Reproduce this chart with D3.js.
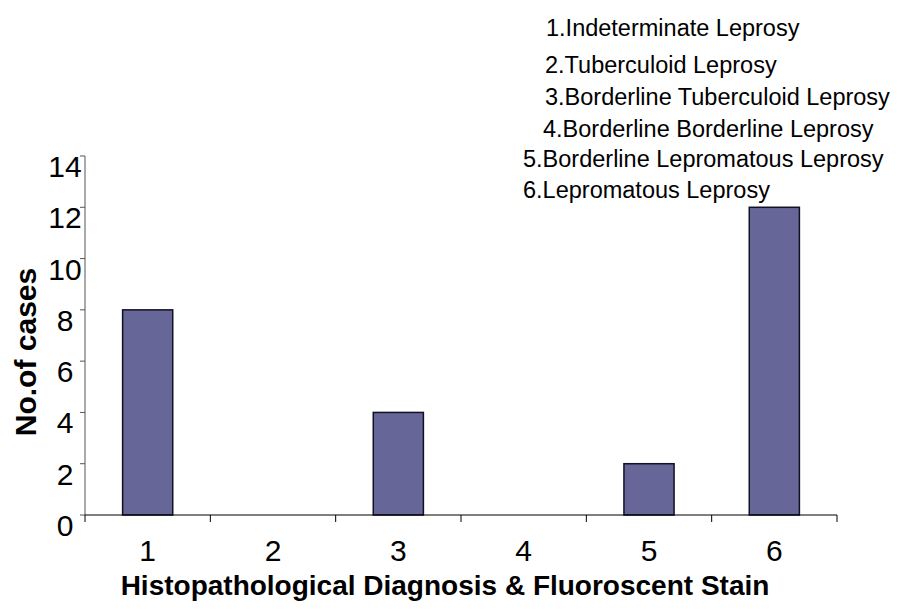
<!DOCTYPE html>
<html>
<head>
<meta charset="utf-8">
<script src="https://cdn.jsdelivr.net/npm/d3@7"></script>
<style>
  html, body { margin: 0; padding: 0; background: #fff; }
  svg { display: block; font-family: Arial, "Liberation Sans", sans-serif; }
</style>
</head>
<body>
<svg id="chart" width="900" height="609"></svg>
<script>
// Cases per histopathological diagnosis (fluorescent stain positive)
const categories = ["1", "2", "3", "4", "5", "6"];
const cases = [8, 0, 4, 0, 2, 12];
const yTicks = [0, 2, 4, 6, 8, 10, 12, 14];
const legendLines = [
  "1.Indeterminate Leprosy",
  "2.Tuberculoid Leprosy",
  "3.Borderline Tuberculoid Leprosy",
  "4.Borderline Borderline Leprosy",
  "5.Borderline Lepromatous Leprosy",
  "6.Lepromatous Leprosy"
];

const svg = d3.select("#chart");
const plot = { left: 85, right: 837, top: 156, bottom: 515 };

const x = d3.scaleBand().domain(categories).range([plot.left, plot.right]).padding(0);
const y = d3.scaleLinear().domain([0, 14]).range([plot.bottom, plot.top]);

// bars
const barW = x.bandwidth() * 0.4;
svg.append("g").selectAll("rect")
  .data(categories.map((c, i) => ({ c, v: cases[i] })).filter(d => d.v > 0))
  .join("rect")
  .attr("x", d => x(d.c) + (x.bandwidth() - barW) / 2)
  .attr("y", d => y(d.v))
  .attr("width", barW)
  .attr("height", d => y(0) - y(d.v))
  .attr("fill", "#666699")
  .attr("stroke", "#111122")
  .attr("stroke-width", 1.5);

// y axis
const yAxis = svg.append("g");
yAxis.append("line")
  .attr("x1", plot.left).attr("x2", plot.left)
  .attr("y1", y(14)).attr("y2", y(0))
  .attr("stroke", "#555").attr("stroke-width", 1);
yAxis.selectAll("line.tick").data(yTicks).join("line")
  .attr("class", "tick")
  .attr("x1", plot.left - 5).attr("x2", plot.left)
  .attr("y1", d => y(d)).attr("y2", d => y(d))
  .attr("stroke", "#555");
yAxis.selectAll("text").data(yTicks).join("text")
  .attr("x", 65)
  .attr("y", d => y(d) + 21)
  .attr("text-anchor", "middle")
  .attr("font-size", 30)
  .attr("fill", "#000")
  .text(d => d);

// x axis
const xAxis = svg.append("g");
xAxis.append("line")
  .attr("x1", plot.left).attr("x2", plot.right)
  .attr("y1", plot.bottom).attr("y2", plot.bottom)
  .attr("stroke", "#000").attr("stroke-width", 1.2);
const xTickPos = categories.map(c => x(c)).concat([x(categories[categories.length - 1]) + x.bandwidth()]);
xAxis.selectAll("line.tick").data(xTickPos).join("line")
  .attr("class", "tick")
  .attr("x1", d => d).attr("x2", d => d)
  .attr("y1", plot.bottom).attr("y2", plot.bottom + 7)
  .attr("stroke", "#000");
xAxis.selectAll("text").data(categories).join("text")
  .attr("x", d => x(d) + x.bandwidth() / 2)
  .attr("y", 561)
  .attr("text-anchor", "middle")
  .attr("font-size", 30)
  .attr("fill", "#000")
  .text(d => d);

// axis titles
svg.append("text")
  .attr("x", 445).attr("y", 595)
  .attr("text-anchor", "middle")
  .attr("font-size", 28).attr("font-weight", "bold")
  .text("Histopathological Diagnosis & Fluoroscent Stain");

svg.append("text")
  .attr("transform", "translate(36,352) rotate(-90)")
  .attr("text-anchor", "middle")
  .attr("font-size", 30).attr("font-weight", "bold")
  .text("No.of cases");

// category key
const keyX = [546, 545, 545, 543, 523, 523];
const keyY = [36, 73, 105, 137, 167, 198];
svg.append("g").selectAll("text").data(legendLines).join("text")
  .attr("x", (d, i) => keyX[i])
  .attr("y", (d, i) => keyY[i])
  .attr("font-size", 23.5)
  .attr("fill", "#000")
  .text(d => d);
</script>
</body>
</html>
